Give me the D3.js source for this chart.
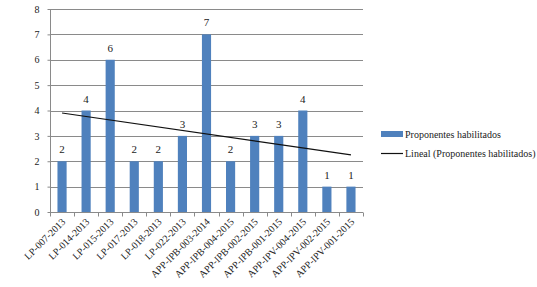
<!DOCTYPE html>
<html>
<head>
<meta charset="utf-8">
<script src="https://cdn.jsdelivr.net/npm/d3@7"></script>
<style>
  body { margin: 0; background: #fff; }
  text { font-family: "Liberation Serif", "DejaVu Serif", serif; fill: #222; }
</style>
</head>
<body>
<div id="chart"></div>
<script>
// data
var categories = ["LP-007-2013", "LP-014-2013", "LP-015-2013", "LP-017-2013", "LP-018-2013",
  "LP-022-2013", "APP-IPB-003-2014", "APP-IPB-004-2015", "APP-IPB-002-2015",
  "APP-IPB-001-2015", "APP-IPV-004-2015", "APP-IPV-002-2015", "APP-IPV-001-2015"];
var habilitados = [2, 4, 6, 2, 2, 3, 7, 2, 3, 3, 4, 1, 1];
var yTicks = [0, 1, 2, 3, 4, 5, 6, 7, 8];
var seriesName = "Proponentes habilitados";
var trendName = "Lineal (Proponentes habilitados)";

var W = 537, H = 287;
var margin = {top: 9, right: 174, bottom: 75, left: 50},
    width = W - margin.left - margin.right,
    height = H - margin.top - margin.bottom;

var svg = d3.select("#chart").append("svg")
  .attr("width", W)
  .attr("height", H);

var g = svg.append("g")
  .attr("transform", "translate(" + margin.left + "," + margin.top + ")");

var x = d3.scaleBand()
  .domain(categories)
  .range([0, width])
  .paddingInner(0.62)
  .paddingOuter(0.31);

var y = d3.scaleLinear()
  .domain([0, 8])
  .range([height, 0]);

// gridlines
g.append("g")
  .selectAll("line")
  .data(yTicks.slice(1))
  .enter().append("line")
  .attr("x1", 0)
  .attr("x2", width)
  .attr("y1", function(d) { return Math.round(y(d)) + 0.5; })
  .attr("y2", function(d) { return Math.round(y(d)) + 0.5; })
  .attr("stroke", "#8a8a8a")
  .attr("stroke-width", 1);

// y axis
var yAxis = g.append("g")
  .attr("transform", "translate(0.5,0)")
  .call(d3.axisLeft(y).tickValues(yTicks).tickSize(3).tickPadding(8).tickFormat(d3.format("d")));
yAxis.selectAll("line, path").attr("stroke", "#8a8a8a");
yAxis.select(".domain").attr("d", "M0," + height + "V0");
yAxis.selectAll("text").style("font-size", "10px").style("font-family", "Liberation Serif").attr("fill", "#222");

// x axis with ticks between the bands
var xAxis = g.append("g")
  .attr("transform", "translate(0," + (Math.round(height) + 0.5) + ")");
xAxis.append("line")
  .attr("x1", 0).attr("x2", width)
  .attr("stroke", "#8a8a8a");
var bounds = d3.range(categories.length + 1).map(function(i) { return i * x.step(); });
xAxis.selectAll(".tk")
  .data(bounds)
  .enter().append("line")
  .attr("class", "tk")
  .attr("x1", function(d) { return Math.round(d) + 0.5; })
  .attr("x2", function(d) { return Math.round(d) + 0.5; })
  .attr("y1", 0).attr("y2", 4)
  .attr("stroke", "#8a8a8a");
xAxis.selectAll(".lbl")
  .data(categories)
  .enter().append("text")
  .attr("class", "lbl")
  .attr("text-anchor", "end")
  .style("font-size", "10px")
  .attr("transform", function(d) {
    return "translate(" + (x(d) + x.bandwidth() / 2 + 4) + ",10) rotate(-45)";
  })
  .text(function(d) { return d; });

// bars
g.selectAll(".bar")
  .data(habilitados)
  .enter().append("rect")
  .attr("class", "bar")
  .attr("x", function(d, i) { return x(categories[i]); })
  .attr("y", function(d) { return y(d); })
  .attr("width", x.bandwidth())
  .attr("height", function(d) { return height - y(d); })
  .attr("fill", "#4f81bd");

// value labels
g.selectAll(".val")
  .data(habilitados)
  .enter().append("text")
  .attr("class", "val")
  .attr("text-anchor", "middle")
  .style("font-size", "11px")
  .attr("x", function(d, i) { return x(categories[i]) + x.bandwidth() / 2; })
  .attr("y", function(d) { return y(d) - 8; })
  .text(function(d) { return d; });

// linear trend (least squares on the series)
var n = habilitados.length;
var xs = d3.range(1, n + 1);
var mx = d3.mean(xs), my = d3.mean(habilitados);
var sxy = d3.sum(xs, function(v, i) { return (v - mx) * (habilitados[i] - my); });
var sxx = d3.sum(xs, function(v) { return (v - mx) * (v - mx); });
var slope = sxy / sxx, intercept = my - slope * mx;
var trend = [xs[0], xs[n - 1]].map(function(v) {
  return {cat: categories[v - 1], val: intercept + slope * v};
});
var line = d3.line()
  .x(function(d) { return x(d.cat) + x.bandwidth() / 2; })
  .y(function(d) { return y(d.val); });
g.append("path")
  .datum(trend)
  .attr("d", line)
  .attr("fill", "none")
  .attr("stroke", "#111")
  .attr("stroke-width", 1.2);

// legend
var lg = svg.append("g").attr("transform", "translate(381,131)");
lg.append("rect")
  .attr("x", 0).attr("y", 0)
  .attr("width", 22).attr("height", 6)
  .attr("fill", "#4f81bd");
lg.append("text")
  .attr("x", 24).attr("y", 3)
  .attr("dy", "0.35em")
  .style("font-size", "10px")
  .text(seriesName);
lg.append("line")
  .attr("x1", 0).attr("x2", 22)
  .attr("y1", 22.5).attr("y2", 22.5)
  .attr("stroke", "#111")
  .attr("stroke-width", 1.2);
lg.append("text")
  .attr("x", 24).attr("y", 22)
  .attr("dy", "0.35em")
  .style("font-size", "10px")
  .text(trendName);
</script>
</body>
</html>
